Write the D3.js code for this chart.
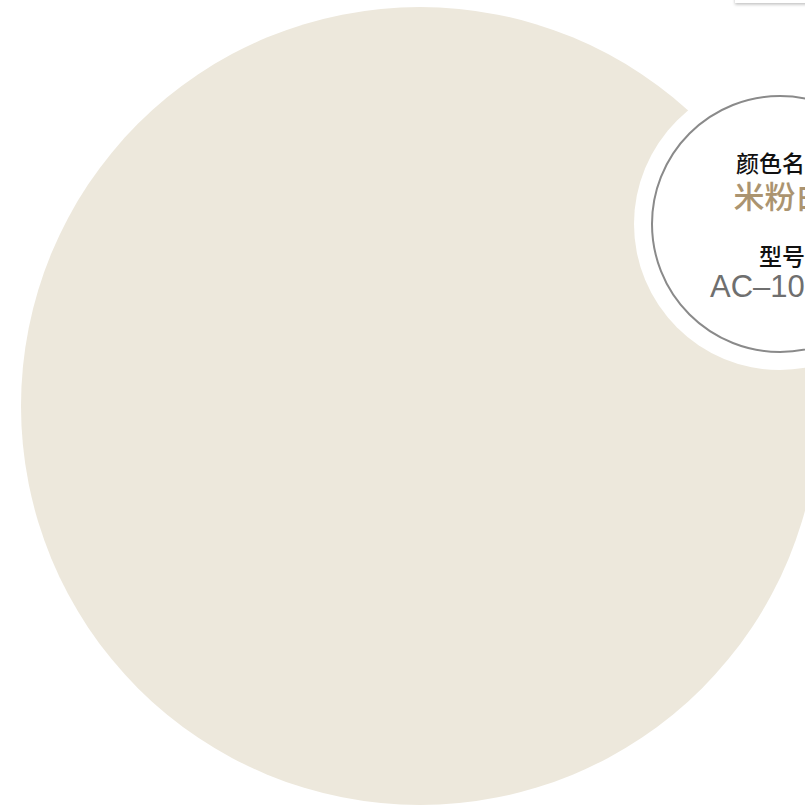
<!DOCTYPE html>
<html>
<head>
<meta charset="utf-8">
<script src="https://cdn.jsdelivr.net/npm/d3@7"></script>
<style>
    html, body { margin: 0; padding: 0; background: #fff; overflow: hidden; }
    svg { display: block; }
</style>
</head>
<body>
<svg id="chart" width="805" height="805"></svg>
<script>
// colour card data
var swatchColors = ["#ede8dc"];
var fieldLabels = ["颜色名称", "型号"];
var fieldValues = ["米粉白", "AC–1001"];

var w = 805, h = 805;
var svg = d3.select("#chart");

var defs = svg.append("defs");
var shadow = defs.append("filter").attr("id", "shadow")
    .attr("x", "-20%").attr("y", "-50%").attr("width", "140%").attr("height", "300%");
shadow.append("feDropShadow").attr("dx", 0).attr("dy", 1.5)
    .attr("stdDeviation", 1.5).attr("flood-color", "#000").attr("flood-opacity", 0.25);

// big paint swatch
var swatch = svg.selectAll("circle.swatch")
    .data(swatchColors)
    .enter()
    .append("circle")
    .attr("class", "swatch")
    .attr("cx", 420)
    .attr("cy", 406)
    .attr("r", 399)
    .style("fill", function(d) { return d; });

// info badge
var badge = svg.append("g").attr("transform", "translate(780,224)");
badge.append("circle").attr("r", 146).style("fill", "#fff");
badge.append("circle").attr("r", 128)
    .style("fill", "#fff")
    .style("stroke", "#8a8a8a")
    .style("stroke-width", 2);

// rows: label then value
var y = d3.scalePoint().domain(d3.range(fieldLabels.length)).range([-52, 41]);

var rows = badge.selectAll("g.row")
    .data(fieldLabels.map(function(d, i) { return { label: d, value: fieldValues[i], i: i }; }))
    .enter()
    .append("g")
    .attr("class", "row")
    .attr("transform", function(d) { return "translate(0," + y(d.i) + ")"; });

rows.append("text")
    .attr("text-anchor", "middle")
    .attr("x", 2)
    .attr("y", 0)
    .style("font-family", "'Noto Sans CJK SC', sans-serif")
    .style("font-size", "23px")
    .style("font-weight", "500")
    .style("fill", "#111")
    .text(function(d) { return d.label; });

rows.append("text")
    .attr("text-anchor", function(d) { return d.i == 0 ? "middle" : "start"; })
    .attr("x", function(d) { return d.i == 0 ? 0 : -70; })
    .attr("y", function(d) { return d.i == 0 ? 36 : 32; })
    .style("font-family", function(d) {
        return d.i == 0 ? "'Noto Sans CJK SC', sans-serif" : "'Liberation Sans', Arial, sans-serif";
    })
    .style("font-weight", function(d) { return d.i == 0 ? "500" : "400"; })
    .style("font-size", "31px")
    .style("fill", function(d) { return d.i == 0 ? "#ab9470" : "#6f6f6f"; })
    .text(function(d) { return d.value; });

// little white tab at the top edge
svg.append("rect")
    .attr("x", 735).attr("y", -20)
    .attr("width", 90).attr("height", 23)
    .style("fill", "#fff")
    .attr("filter", "url(#shadow)");
</script>
</body>
</html>
